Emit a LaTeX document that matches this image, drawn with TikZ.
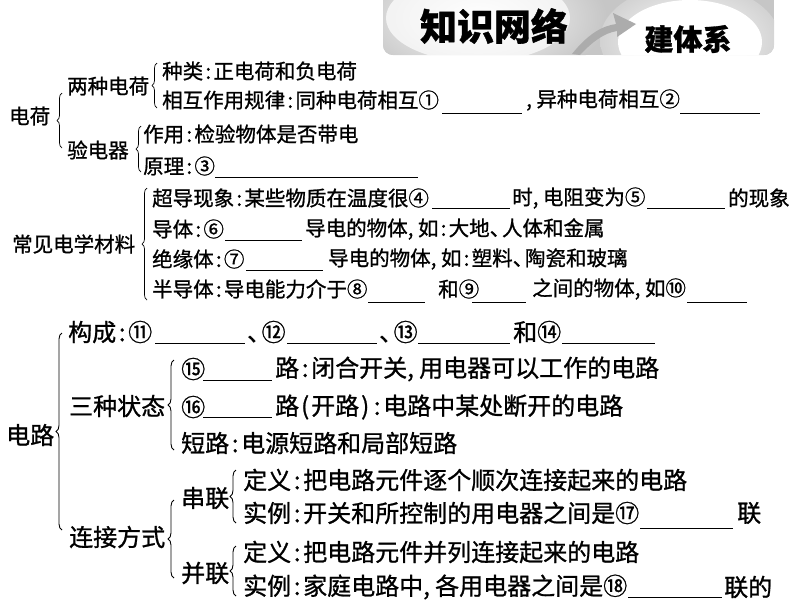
\documentclass[tikz,border=0pt]{standalone}
\usepackage{fontspec}
\setmainfont{Noto Sans CJK SC}[FakeBold=1]
\usetikzlibrary{decorations.pathreplacing}
\newcommand\Cl{\makebox[0.5em][c]{:}}
\newcommand\Cm{\makebox[0.5em][l]{,}}
\newcommand\Dn{\makebox[0.6em][l]{、}}
\newcommand\Lp{\makebox[0.5em][c]{(}}
\newcommand\Rp{\makebox[0.5em][c]{)}}
\newcommand\fa{\fontsize{20.5}{24}\selectfont}
\newcommand\fb{\fontsize{24}{28}\selectfont}
\begin{document}
\begin{tikzpicture}[x=1pt,y=-1pt,
  ta/.style={anchor=west,inner sep=0pt,font=\fa},
  tb/.style={anchor=west,inner sep=0pt,font=\fb},
  brc/.style={decorate,decoration={brace,amplitude=5pt},line width=0.7pt},
  brcb/.style={decorate,decoration={brace,amplitude=6pt},line width=0.9pt},
  blank/.style={line width=0.8pt},
  hd/.style={inner sep=0pt,font=\bfseries}]
\useasboundingbox (0,0) rectangle (794,603);
% ---------- header banner ----------
\begin{scope}
  \clip[rounded corners=10pt] (383,-12) rectangle (774,55);
  \fill[gray!45] (383,-12) rectangle (774,55);
  \shade[inner color=white,outer color=gray!45] (478,18) ellipse (130 and 66);
  \fill[white,opacity=0.7] (478,18) ellipse (92 and 44);
  \shade[inner color=white,outer color=gray!35] (690,40) ellipse (90 and 56);
  \fill[white] (690,42) ellipse (72 and 42);
\end{scope}
\fill[gray!65] (572,54) .. controls (588,34) and (602,26) .. (616,24)
  -- (613,13) -- (636,24) -- (617,37) -- (617,31)
  .. controls (604,33) and (592,42) .. (580,55) -- cycle;
\node[hd,font=\fontsize{37}{39}\selectfont\bfseries] (h1) at (494,26) {知识网络};
\node[hd,font=\fontsize{29}{32}\selectfont\bfseries] (h2) at (688,39) {建体系};
% ---------- 电荷 ----------
\node[ta] (dh) at (9,116) {电荷};
\node[ta] (lz) at (67,86) {两种电荷};
\node[ta] (zl) at (162,71) {种类\Cl 正电荷和负电荷};
\node[ta] (xh) at (162,100) {相互作用规律\Cl 同种电荷相互①};
\draw[blank] (442,113) -- (522,113);
\node[ta] (yz) at (526,100) {\Cm 异种电荷相互②};
\draw[blank] (680,113) -- (760,113);
\node[ta] (yd) at (67,150) {验电器};
\node[ta] (zy) at (143,134) {作用\Cl 检验物体是否带电};
\node[ta] (yl) at (143,166) {原理\Cl ③};
\draw[blank] (215,177) -- (418,177);
\draw[brc] (62,148) -- (62,93);
\draw[brc] (157,108) -- (157,63);
\draw[brc] (141,172) -- (141,126);
% ---------- 常见电学材料 ----------
\node[ta] (cj) at (12,244) {常见电学材料};
\node[ta] (cd) at (152,198) {超导现象\Cl 某些物质在温度很④};
\draw[blank] (432,208) -- (510,208);
\node[ta] (cd2) at (512,198) {时\Cm 电阻变为⑤};
\draw[blank] (647,208) -- (725,208);
\node[ta] (cd3) at (728,198) {的现象};
\node[ta] (dt) at (152,229) {导体\Cl ⑥};
\draw[blank] (225,240) -- (302,240);
\node[ta] (dt2) at (305,229) {导电的物体\Cm 如\Cl 大地\Dn 人体和金属};
\node[ta] (jy) at (152,259) {绝缘体\Cl ⑦};
\draw[blank] (246,270) -- (323,270);
\node[ta] (jy2) at (328,259) {导电的物体\Cm 如\Cl 塑料\Dn 陶瓷和玻璃};
\node[ta] (bd) at (152,289) {半导体\Cl 导电能力介于⑧};
\draw[blank] (368,302) -- (425,302);
\node[ta] (bd2) at (438,289) {和⑨};
\draw[blank] (472,302) -- (526,302);
\node[ta] (bd3) at (532,289) {之间的物体\Cm 如⑩};
\draw[blank] (687,302) -- (747,302);
\draw[brc] (147,300) -- (147,188);
% ---------- 电路 ----------
\node[tb] (dl) at (6,435) {电路};
\node[tb] (gc) at (68,332) {构成\Cl ⑪};
\draw[blank] (155,343) -- (245,343);
\node[tb] (gc2) at (247,332) {\Dn ⑫};
\draw[blank] (287,343) -- (377,343);
\node[tb] (gc3) at (379,332) {\Dn ⑬};
\draw[blank] (418,343) -- (510,343);
\node[tb] (gc4) at (513,332) {和⑭};
\draw[blank] (562,343) -- (655,343);
\node[tb] (sz) at (69,406) {三种状态};
\node[tb] (n15) at (181,369) {⑮};
\draw[blank] (203,380) -- (272,380);
\node[tb] (tl) at (275,369) {路\Cl 闭合开关\Cm 用电器可以工作的电路};
\node[tb] (n16) at (181,407) {⑯};
\draw[blank] (203,417) -- (272,417);
\node[tb] (kl) at (275,407) {路\Lp 开路\Rp\Cl 电路中某处断开的电路};
\node[tb] (dlu) at (181,443) {短路\Cl 电源短路和局部短路};
\node[tb] (lj) at (69,537) {连接方式};
\node[tb] (cl) at (181,498) {串联};
\node[tb] (bl) at (181,573) {并联};
\node[tb] (cdy) at (243,480) {定义\Cl 把电路元件逐个顺次连接起来的电路};
\node[tb] (csl) at (243,513) {实例\Cl 开关和所控制的用电器之间是⑰};
\draw[blank] (640,528) -- (733,528);
\node[tb] (csl2) at (737,513) {联};
\node[tb] (bdy) at (243,552) {定义\Cl 把电路元件并列连接起来的电路};
\node[tb] (bsl) at (243,587) {实例\Cl 家庭电路中\Cm 各用电器之间是⑱};
\draw[blank] (628,597) -- (722,597);
\node[tb] (bsl2) at (724,587) {联的};
\draw[brcb] (62,530) -- (62,333);
\draw[brcb] (174,450) -- (174,360);
\draw[brcb] (174,578) -- (174,500);
\draw[brcb] (236,523) -- (236,470);
\draw[brcb] (236,596) -- (236,546);
\end{tikzpicture}
\end{document}
